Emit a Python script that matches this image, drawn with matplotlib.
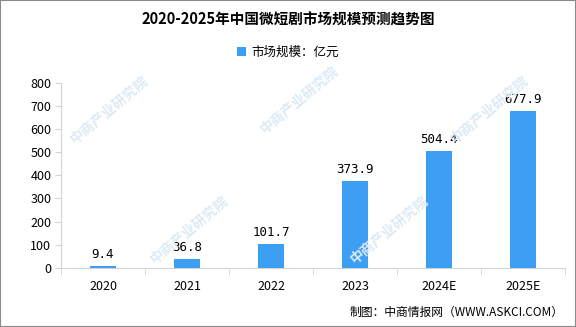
import matplotlib

matplotlib.use("Agg")
import matplotlib.pyplot as plt
from matplotlib.patches import Rectangle

plt.rcParams["font.family"] = ["Noto Sans CJK SC", "DejaVu Sans"]

years = ["2020", "2021", "2022", "2023", "2024E", "2025E"]
market_size = [9.4, 36.8, 101.7, 373.9, 504.4, 677.9]
yticks = [0, 100, 200, 300, 400, 500, 600, 700, 800]

BAR = "#3d9ff3"
GRID = "#d4d4d4"

fig = plt.figure(figsize=(5.76, 3.27), dpi=100)
ax = fig.add_axes([61 / 576, 1 - 268 / 327, 504 / 576, (268 - 82.5) / 327])

# faint watermarks (pixel centres)
for wx, wy in [(110, 110), (300, 100), (490, 110), (190, 230), (390, 230)]:
    fig.text(wx / 576, 1 - wy / 327, "中商产业研究院", rotation=40, fontsize=10,
             color="#dceaf5", ha="center", va="center", fontweight="bold", zorder=0)

x = range(len(years))
ax.bar(x, market_size, width=0.32, color=BAR, zorder=3, label="市场规模：亿元")
for xi, v in zip(x, market_size):
    ax.text(xi, v + 22, f"{v}", ha="center", va="bottom", fontsize=9,
            family=["DejaVu Sans Mono", "DejaVu Sans"])

ax.set_xlim(-0.5, len(years) - 0.5)
ax.set_ylim(0, 800)
ax.set_yticks(yticks)
ax.set_xticks(x)
ax.set_xticklabels(years)
ax.set_xticks([i - 0.5 for i in range(len(years) + 1)], minor=True)
ax.tick_params(axis="x", which="major", length=0, pad=9, labelsize=9)
ax.tick_params(axis="x", which="minor", length=5, color=GRID)
ax.tick_params(axis="y", length=4, color=GRID, labelsize=9, pad=3)
for s in ["top", "right"]:
    ax.spines[s].set_visible(False)
ax.spines["left"].set_color(GRID)
ax.spines["bottom"].set_color(GRID)
ax.patch.set_alpha(0)

fig.text(0.5, 1 - 20 / 327, "2020-2025年中国微短剧市场规模预测趋势图", ha="center",
         va="center", fontsize=10.5, fontweight="bold")
fig.legend(loc="center", bbox_to_anchor=(0.5, 1 - 52 / 327), frameon=False,
           fontsize=9, handlelength=0.7, handleheight=0.7, handletextpad=0.4)
fig.text(1 - 12 / 576, 1 - 312 / 327, "制图：中商情报网（WWW.ASKCI.COM）", ha="right",
         va="center", fontsize=8.5)

fig.patches.append(Rectangle((0, 0), 1, 1, transform=fig.transFigure, fill=False,
                             edgecolor="#8a8a8a", linewidth=1.5))

fig.savefig("out.png", dpi=100)
